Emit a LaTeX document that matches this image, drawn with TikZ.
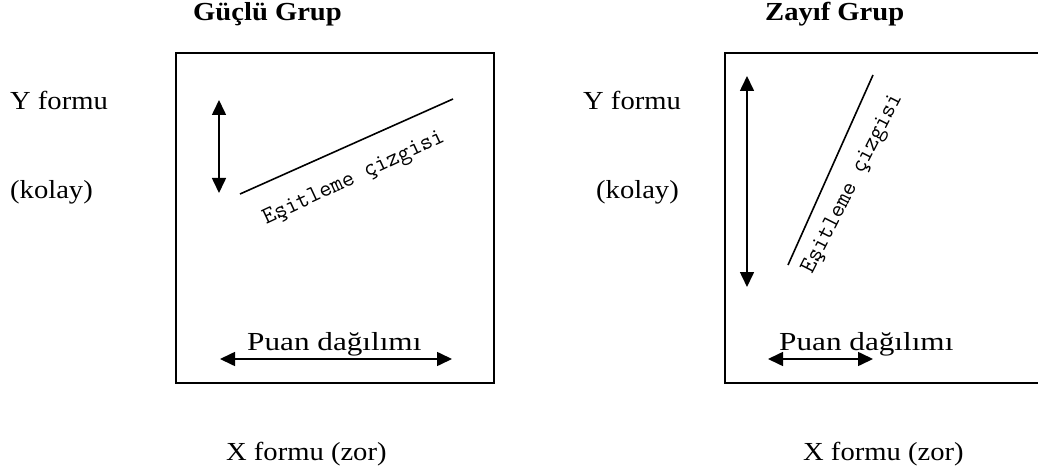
\documentclass[tikz,border=0pt]{standalone}
\usepackage{fontspec}
\setmainfont{Liberation Serif}
\newfontfamily\labelfont[FakeStretch=1.1]{Liberation Serif}
\newfontfamily\puanfont[FakeStretch=1.2]{Liberation Serif}
\usetikzlibrary{arrows.meta,positioning}

\begin{document}
\begin{tikzpicture}[x=1pt,y=-1pt,
  frame/.style={draw,line width=2pt,minimum width=318pt,minimum height=330pt,inner sep=0pt},
  lbl/.style={font=\labelfont\fontsize{26}{30}\selectfont,anchor=base west,inner sep=0pt},
  title/.style={lbl,font=\labelfont\bfseries\fontsize{26}{30}\selectfont},
  puan/.style={font=\puanfont\fontsize{26}{30}\selectfont,anchor=base west,inner sep=0pt},
  eqtext/.style={font=\ttfamily\fontsize{24}{28}\selectfont,anchor=base,inner sep=0pt},
  arr/.style={{Triangle[length=15pt,width=14pt]}-{Triangle[length=15pt,width=14pt]},line width=1.6pt},
  eqline/.style={line width=1.6pt}]
\clip (0,0) rectangle (1038,473);
% left panel
\node[frame] (lbox) at (335,218) {};
\node[title] (ltitle) at (193,21) {Güçlü Grup};
\node[lbl] (ly) at (10,110) {Y formu};
\node[lbl] (lk) at (10,199) {(kolay)};
\node[lbl] (lx) at (226,460) {X formu (zor)};
\coordinate (lvt) at (219,100);
\coordinate (lvb) at (219,193);
\draw[arr] (lvt)--(lvb);
\coordinate (lla) at (240,194);
\coordinate (llb) at (453,99);
\draw[eqline] (lla)--(llb);
\node[eqtext,rotate=25] (leq) at (356,183) {Eşitleme çizgisi};
\node[puan] (lpuan) at (247,350) {Puan dağılımı};
\coordinate (lhl) at (220,359);
\coordinate (lhr) at (452,359);
\draw[arr] (lhl)--(lhr);
% right panel
\node[frame] (rbox) at (884,218) {};
\node[title] (rtitle) at (765,21) {Zayıf Grup};
\node[lbl] (ry) at (583,110) {Y formu};
\node[lbl] (rk) at (596,199) {(kolay)};
\node[lbl] (rx) at (803,460) {X formu (zor)};
\coordinate (rvt) at (747,76);
\coordinate (rvb) at (747,287);
\draw[arr] (rvt)--(rvb);
\coordinate (rla) at (788,265);
\coordinate (rlb) at (873,75);
\draw[eqline] (rla)--(rlb);
\node[eqtext,rotate=63] (req) at (857,186) {Eşitleme çizgisi};
\node[puan] (rpuan) at (779,350) {Puan dağılımı};
\coordinate (rhl) at (768,359);
\coordinate (rhr) at (873,359);
\draw[arr] (rhl)--(rhr);
\end{tikzpicture}
\end{document}
